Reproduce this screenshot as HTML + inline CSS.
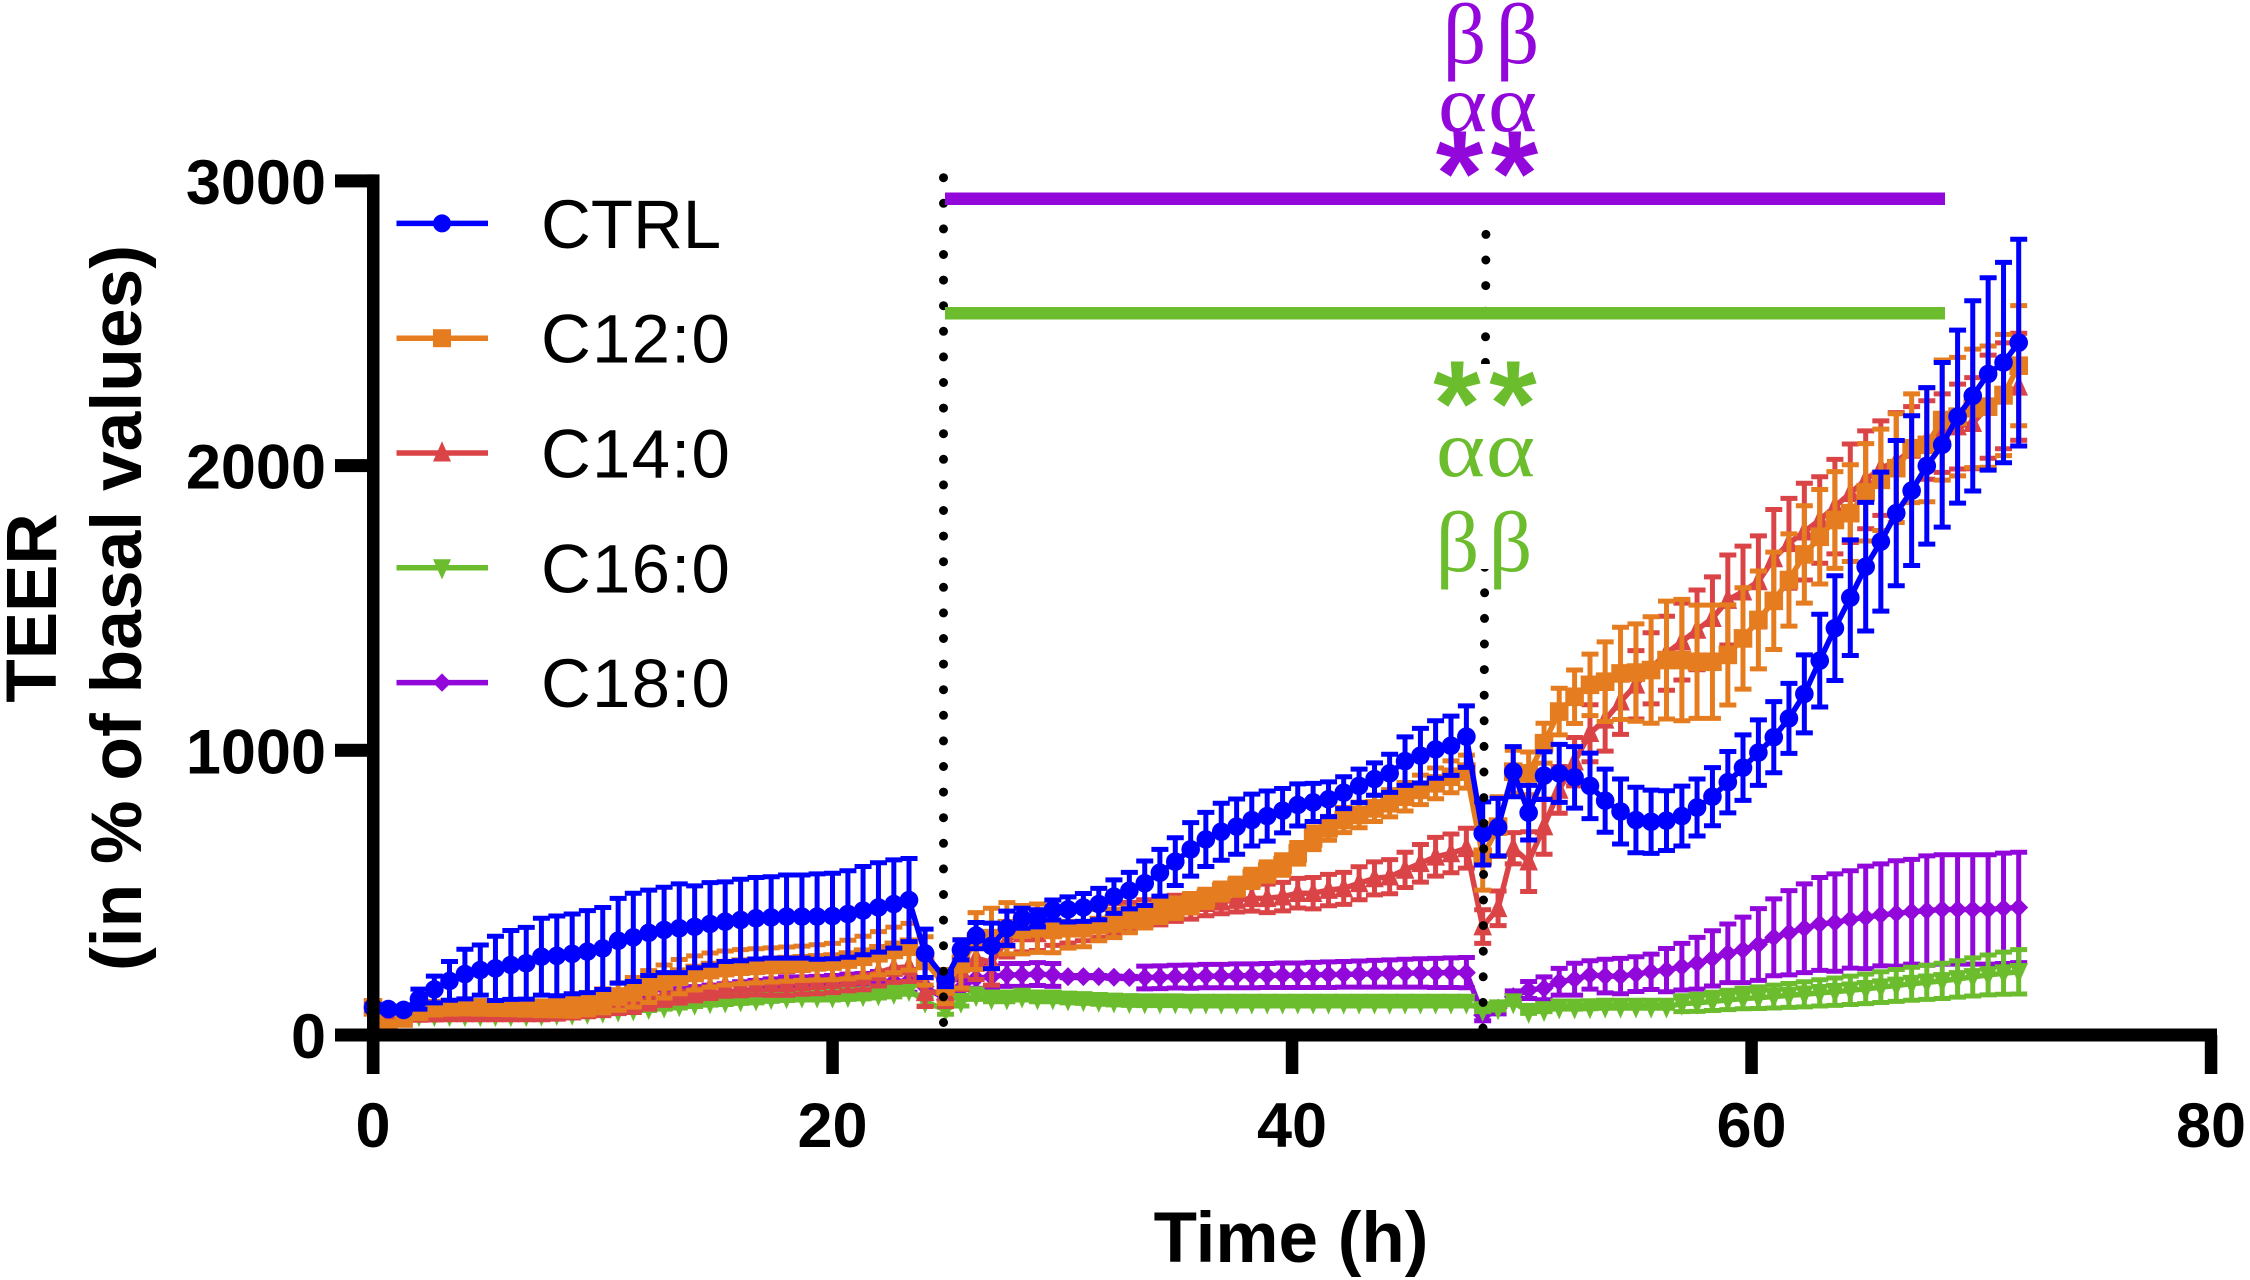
<!DOCTYPE html>
<html lang="en">
<head>
<meta charset="utf-8">
<title>TEER over time</title>
<style>
html,body{margin:0;padding:0;background:#fff;width:2250px;height:1280px;overflow:hidden}
svg{display:block}
text{font-family:"Liberation Sans",sans-serif}
.tick{font-size:63px;font-weight:bold;fill:#000}
.leg{font-size:69px;fill:#000}
.title{font-size:71px;font-weight:bold;fill:#000}
.title2{font-size:71.4px;font-weight:bold;fill:#000}
.greek{font-family:"Liberation Serif",serif;font-size:86px;text-anchor:middle}
.alpha{font-family:"Liberation Serif",serif;font-size:92px;text-anchor:middle}
.star{font-size:122px;font-weight:bold;text-anchor:middle}
</style>
</head>
<body>
<svg id="chart" xmlns="http://www.w3.org/2000/svg" width="2250" height="1280" viewBox="0 0 2250 1280">
  <rect x="0" y="0" width="2250" height="1280" fill="#fff"/>
  <g id="series-layer"></g>

  <line x1="943.5" y1="1022.5" x2="943.5" y2="175" stroke="#000" stroke-width="9" stroke-linecap="round" stroke-dasharray="0 25.6"/>
  <line x1="1483" y1="1028" x2="1486" y2="212" stroke="#000" stroke-width="9" stroke-linecap="round" stroke-dasharray="0 25.6"/>

  <rect x="1430" y="170" width="110" height="39" fill="#fff"/>
  <rect x="1430" y="364" width="110" height="205" fill="#fff"/>

  <rect x="945" y="192.5" width="1000" height="12.5" fill="#9208db"/>
  <rect x="945" y="307" width="1000" height="12.5" fill="#6cbd2d"/>

  <g fill="#9208db">
    <text class="greek" x="1464.5" y="63">β</text>
    <text class="greek" x="1517.5" y="63">β</text>
    <text class="alpha" transform="translate(1462.5,131) scale(1.02,0.87)">α</text>
    <text class="alpha" transform="translate(1512.5,131) scale(1.02,0.87)">α</text>
    <text class="star" x="1459.5" y="215">*</text>
    <text class="star" x="1514.5" y="215">*</text>
  </g>
  <g fill="#6cbd2d">
    <text class="star" x="1457" y="445">*</text>
    <text class="star" x="1513" y="445">*</text>
    <text class="alpha" transform="translate(1460.5,476) scale(1.02,0.87)">α</text>
    <text class="alpha" transform="translate(1510.5,476) scale(1.02,0.87)">α</text>
    <text class="greek" x="1457.5" y="571">β</text>
    <text class="greek" x="1510.5" y="571">β</text>
  </g>

  <g id="axis-layer"></g>

  <text class="title" transform="translate(56,608) rotate(-90)" text-anchor="middle">TEER</text>
  <text class="title2" transform="translate(141,608) rotate(-90)" text-anchor="middle">(in % of basal values)</text>
  <text class="title" x="1291" y="1262" text-anchor="middle">Time (h)</text>

  <g id="legend-layer"></g>
</svg>
<script>
const xTickValues = [0, 20, 40, 60, 80];
const yTickValues = [0, 1000, 2000, 3000];
const seriesNames = ["CTRL", "C12:0", "C14:0", "C16:0", "C18:0"];

const hours = [0,0.67,1.33,2,2.67,3.33,4,4.67,5.33,6,6.67,7.33,8,8.67,9.33,10,10.67,11.33,12,12.67,13.33,14,14.67,15.33,16,16.67,17.33,18,18.67,19.33,20,20.67,21.33,22,22.67,23.33,
24.03,24.92,25.59,26.25,26.92,27.59,28.25,28.92,29.59,30.25,30.92,31.59,32.25,32.92,33.59,34.25,34.92,35.59,36.25,36.92,37.59,38.25,38.92,39.59,40.25,40.92,41.59,42.25,42.92,43.59,44.25,44.92,45.59,46.25,46.92,47.59,
48.3,48.97,49.63,50.3,50.97,51.63,52.3,52.97,53.63,54.3,54.97,55.63,56.3,56.97,57.63,58.3,58.97,59.63,60.3,60.97,61.63,62.3,62.97,63.63,64.3,64.97,65.63,66.3,66.97,67.63,68.3,68.97,69.63,70.3,70.97,71.63];

const ctrlMean = [97,91,88,126,160,190,214,228,234,246,252,275,278,285,293,304,331,343,359,369,375,380,390,398,404,410,413,416,416,416,418,425,437,448,460,474,
287,195,299,349,313,375,410,410,439,441,448,460,486,507,533,570,609,652,687,714,732,755,769,788,808,817,828,851,875,899,919,962,981,1003,1016,1048,
708,730,925,781,911,919,905,875,823,785,755,749,753,769,799,837,888,939,992,1046,1112,1198,1315,1429,1536,1645,1733,1833,1912,1999,2073,2172,2245,2322,2362,2432];
const ctrlError = [10,10,10,35,47,68,87,88,113,121,126,135,140,140,144,144,149,155,150,150,156,144,145,140,143,143,143,146,146,150,150,152,155,157,155,146,
85,25,35,46,80,60,35,30,35,44,49,55,59,64,78,82,84,94,95,100,97,91,88,78,74,67,61,56,59,57,67,85,96,101,104,108,
111,101,88,96,84,102,108,115,111,114,115,111,105,105,100,102,108,115,115,125,123,137,163,184,203,226,244,255,263,275,289,304,334,338,352,363];

const c12Mean = [97,23,58,82,94,97,98,97,96,95,94,94,97,100,109,120,135,150,170,188,205,218,228,235,240,243,246,249,252,255,258,265,275,287,299,310,
260,170,250,330,340,375,370,375,369,375,375,386,392,404,416,433,445,463,480,504,521,550,574,597,638,691,726,755,773,796,814,837,861,884,907,925,
626,732,925,919,1025,1136,1188,1230,1241,1270,1273,1282,1317,1317,1311,1311,1335,1393,1458,1525,1598,1688,1750,1809,1833,1906,1950,1991,2061,2073,2160,2172,2201,2207,2248,2351];
const c12Error = [5,5,5,12,14,16,18,20,20,22,24,26,30,34,38,42,48,52,56,58,60,60,60,60,60,60,60,60,60,62,64,68,72,76,80,82,
85,60,85,100,105,90,85,85,80,70,65,55,50,45,40,38,36,34,32,30,30,32,34,36,38,40,42,44,45,46,48,50,52,54,56,58,
117,105,75,75,70,82,94,108,140,162,171,187,207,213,199,199,176,178,172,171,162,171,166,170,170,171,178,191,191,200,211,208,208,213,213,211];

const c14Mean = [97,75,72,74,75,76,76,76,76,76,76,76,78,82,88,96,105,111,125,140,150,158,168,176,178,181,181,181,185,189,193,199,205,220,235,240,
150,150,230,270,255,334,357,357,375,381,386,398,410,416,427,433,445,451,463,468,474,480,480,486,498,498,509,515,533,550,556,580,603,626,638,656,
381,445,656,609,732,861,960,1060,1107,1171,1230,1288,1341,1382,1423,1464,1528,1557,1593,1674,1727,1768,1809,1856,1903,1950,1991,2014,2055,2090,2114,2137,2149,2207,2245,2277];
const c14Error = [5,5,5,8,10,12,12,12,12,14,14,16,18,20,24,28,30,32,34,36,38,38,40,40,40,40,42,42,42,44,44,44,46,48,50,52,
50,50,70,75,80,60,65,60,60,58,55,55,52,50,48,46,46,44,44,42,42,45,50,50,52,55,55,56,58,58,60,62,66,68,68,70,
59,61,55,105,97,82,85,100,110,115,120,125,130,135,140,145,158,160,160,172,158,170,152,166,173,172,166,172,152,138,138,149,160,181,186,188];

const c16Mean = [95,78,72,70,70,70,70,70,70,70,70,72,74,75,78,82,86,90,95,100,105,110,115,118,122,125,130,133,135,135,135,137,140,143,148,158,
117,88,117,140,129,129,135,129,129,125,123,120,118,116,115,115,115,114,114,114,114,114,114,114,114,114,114,114,114,114,114,114,114,114,114,114,
88,94,115,82,88,97,97,98,100,100,100,100,100,110,113,118,123,128,131,135,139,143,148,152,157,162,168,174,180,185,190,197,204,211,217,222];
const c16Error = [3,3,3,4,4,4,5,5,5,5,5,6,6,6,7,7,8,8,9,9,10,10,10,11,11,12,12,12,12,12,12,12,13,13,14,15,
15,15,15,15,12,12,12,12,12,12,12,12,12,12,12,12,12,12,12,12,12,12,12,12,12,12,12,12,12,12,12,12,12,12,12,12,
6,6,6,6,6,6,6,6,6,6,6,6,6,28,30,32,34,36,38,40,42,44,46,48,50,52,54,56,58,60,62,64,67,70,74,78];

const c18Mean = [98,80,75,80,85,88,90,90,90,90,90,92,95,98,102,108,112,118,125,130,135,140,145,150,155,160,165,170,170,172,175,178,180,185,188,190,
170,125,164,199,205,211,211,214,211,205,205,205,203,202,202,203,205,205,207,207,208,208,209,210,210,211,212,213,214,215,216,217,218,218,219,219,
70,94,135,158,164,187,196,211,207,207,214,222,228,240,252,269,287,299,318,343,359,375,390,395,406,413,422,427,433,437,441,441,441,441,445,448];
const c18Error = [5,5,5,8,10,12,14,16,16,18,18,20,20,22,22,24,24,26,26,28,28,30,30,30,32,32,32,34,34,34,34,36,36,38,38,40,
30,20,30,35,38,40,40,40,40,4,4,4,4,4,40,40,40,41,41,41,42,42,42,43,43,44,45,45,46,47,48,49,50,51,52,53,
20,20,20,30,40,47,56,50,59,62,61,62,76,82,91,97,103,115,126,135,148,156,163,171,171,180,179,185,184,192,192,192,192,192,194,194];

const NS = "http://www.w3.org/2000/svg";
const xScale = function (h) { return 373 + (2211 - 373) * h / 80; };
const yScale = function (v) { return 1035 - 0.2847 * v; };

function make(tag, attrs, parent) {
  const el = document.createElementNS(NS, tag);
  Object.keys(attrs).forEach(function (k) { el.setAttribute(k, attrs[k]); });
  parent.appendChild(el);
  return el;
}

function markerShape(kind, cx, cy, size, color, parent) {
  const s = size;
  if (kind === "circle") {
    return make("circle", { cx: cx, cy: cy, r: s, fill: color }, parent);
  }
  if (kind === "square") {
    return make("rect", { x: cx - s, y: cy - s, width: 2 * s, height: 2 * s, fill: color }, parent);
  }
  if (kind === "up") {
    return make("polygon", { points: (cx) + "," + (cy - s * 1.3) + " " + (cx + s) + "," + (cy + s * 0.95) + " " + (cx - s) + "," + (cy + s * 0.95), fill: color }, parent);
  }
  if (kind === "down") {
    return make("polygon", { points: (cx) + "," + (cy + s * 1.3) + " " + (cx + s) + "," + (cy - s * 0.95) + " " + (cx - s) + "," + (cy - s * 0.95), fill: color }, parent);
  }
  return make("polygon", { points: cx + "," + (cy - s * 1.02) + " " + (cx + s * 1.02) + "," + cy + " " + cx + "," + (cy + s * 1.02) + " " + (cx - s * 1.02) + "," + cy, fill: color }, parent);
}

function drawSeries(key, means, errors, color, kind) {
  const layer = document.getElementById("series-layer");
  const g = make("g", {}, layer);
  
  
  let barPath = "";
  hours.forEach(function (h, i) {
    const x = xScale(h);
    const hi = yScale(means[i] + errors[i]);
    const lo = yScale(means[i] - errors[i]);
    barPath += "M" + x + " " + hi + "V" + lo + "M" + (x - 8.5) + " " + hi + "H" + (x + 8.5) + "M" + (x - 8.5) + " " + lo + "H" + (x + 8.5);
  });
  const bars = make("path", { d: barPath, fill: "none", stroke: color, "stroke-width": 5 }, g);
  
  
  const pts = hours.map(function (h, i) { return xScale(h) + "," + yScale(means[i]); }).join(" ");
  const line = make("polyline", { points: pts, fill: "none", stroke: color, "stroke-width": 5.5, "stroke-linejoin": "round" }, g);
  
  
  hours.forEach(function (h, i) {
    const m = markerShape(kind, xScale(h), yScale(means[i]), 9.3, color, g);
    
    
  });
}

drawSeries("c18", c18Mean, c18Error, "#9208db", "diamond");
drawSeries("c16", c16Mean, c16Error, "#6cbd2d", "down");
drawSeries("c14", c14Mean, c14Error, "#db4447", "up");
drawSeries("c12", c12Mean, c12Error, "#e57c1f", "square");
drawSeries("ctrl", ctrlMean, ctrlError, "#0000ff", "circle");

const axisLayer = document.getElementById("axis-layer");
const yAxisLine = make("rect", { x: xScale(0) - 6, y: yScale(3000) - 6.5, width: 12.5, height: 1074 - yScale(3000) + 6.5, fill: "#000" }, axisLayer);


const xAxisLine = make("rect", { x: 335, y: yScale(0) - 6.5, width: 2217 - 335, height: 13, fill: "#000" }, axisLayer);



yTickValues.forEach(function (v) {
  const t = make("rect", { x: 335, y: yScale(v) - 6.5, width: 40, height: 13, fill: "#000" }, axisLayer);
  
  
  const label = make("text", { class: "tick", x: 326, y: yScale(v) + 23, "text-anchor": "end" }, axisLayer);
  
  
  label.textContent = String(v);
});
xTickValues.forEach(function (v) {
  const t = make("rect", { x: xScale(v) - 6.2, y: yScale(0), width: 12.5, height: 1074 - yScale(0), fill: "#000" }, axisLayer);
  
  
  const label = make("text", { class: "tick", x: xScale(v), y: 1147, "text-anchor": "middle" }, axisLayer);
  
  
  label.textContent = String(v);
});

const legendColors = ["#0000ff", "#e57c1f", "#db4447", "#6cbd2d", "#9208db"];
const legendKinds = ["circle", "square", "up", "down", "diamond"];
const legendLayer = document.getElementById("legend-layer");
seriesNames.forEach(function (name, i) {
  const cy = 223.4 + i * 114.8;
  const g = make("g", {}, legendLayer);
  
  
  make("line", { x1: 396.5, x2: 488, y1: cy, y2: cy, stroke: legendColors[i], "stroke-width": 5.5 }, g);
  markerShape(legendKinds[i], 442, cy, 9, legendColors[i], g);
  const label = make("text", { class: "leg", x: 541, y: cy + 24.5, "letter-spacing": i === 0 ? 0 : 1.2 }, g);
  
  
  label.textContent = name;
});
</script>
</body>
</html>
